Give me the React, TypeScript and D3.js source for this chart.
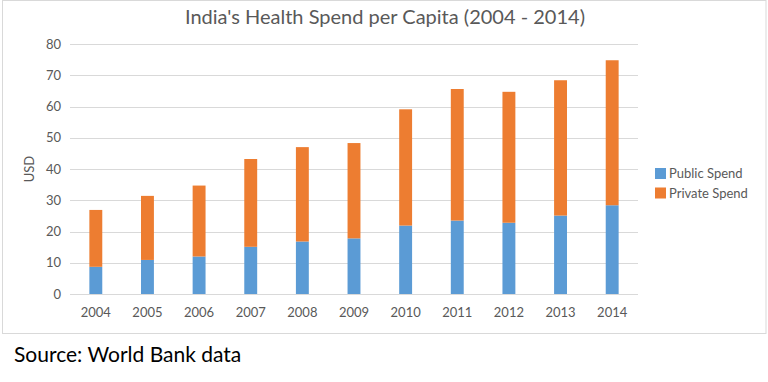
import React from "react";
import * as d3 from "d3";

const years = ["2004","2005","2006","2007","2008","2009","2010","2011","2012","2013","2014"];
const publicSpend = [8.7, 10.9, 12.0, 15.1, 16.8, 17.8, 21.9, 23.5, 22.8, 25.1, 28.4];
const totalSpend = [26.9, 31.4, 34.7, 43.2, 47.0, 48.3, 59.1, 65.6, 64.7, 68.4, 74.8];
const privateSpend = totalSpend.map((t, i) => +(t - publicSpend[i]).toFixed(1));
const yTicks = [0, 10, 20, 30, 40, 50, 60, 70, 80];
const seriesNames = ["Public Spend", "Private Spend"];
const colors = ["#5B9BD5", "#ED7D31"];

const W = 768, H = 382;
const FONT = "Lato, 'Open Sans', sans-serif";

export default function App() {
  const x = d3.scaleBand<string>().domain(years).range([70, 638]).paddingInner(0.75).paddingOuter(0.375);
  const y = d3.scaleLinear().domain([0, 80]).range([294, 44]);
  const rows = years.map((yr, i) => ({ year: yr, pub: publicSpend[i], priv: privateSpend[i] }));
  const stack = d3.stack<any>().keys(["pub", "priv"])(rows);

  return (
    <svg width={W} height={H} style={{ position: "absolute", left: 0, top: 0, background: "#fff" }} fontFamily={FONT}>
      <rect x={2.5} y={0.5} width={763.5} height={333} fill="#fff" stroke="#d9d9d9" />
      <text x={385} y={24} textAnchor="middle" fontSize={20} fill="#595959">
        India's Health Spend per Capita (2004 - 2014)
      </text>
      {yTicks.map((t) => (
        <g key={t}>
          <line x1={70} x2={638} y1={Math.round(y(t)) + 0.5} y2={Math.round(y(t)) + 0.5} stroke="#d9d9d9" strokeWidth={1} />
          <text x={61} y={y(t)} dy="0.35em" textAnchor="end" fontSize={13} fill="#595959">{t}</text>
        </g>
      ))}
      <text transform={`translate(34,${169}) rotate(-90)`} textAnchor="middle" fontSize={13} fill="#595959">USD</text>
      {stack.map((s, si) => (
        <g key={si} fill={colors[si]}>
          {s.map((d: any, i: number) => (
            <rect key={i} x={x(years[i])!} width={x.bandwidth()} y={y(d[1])} height={y(d[0]) - y(d[1])} />
          ))}
        </g>
      ))}
      {years.map((yr) => (
        <text key={yr} x={x(yr)! + x.bandwidth() / 2} y={312} dy="0.35em" textAnchor="middle" fontSize={13} fill="#595959">{yr}</text>
      ))}
      {seriesNames.map((n, i) => (
        <g key={n} transform={`translate(655,${168 + i * 19.5})`}>
          <rect width={11} height={11} fill={colors[i]} />
          <text x={14} y={5.5} dy="0.35em" fontSize={13} fill="#595959">{n}</text>
        </g>
      ))}
      <text x={14} y={362} fontSize={21} fill="#000">Source: World Bank data</text>
    </svg>
  );
}
